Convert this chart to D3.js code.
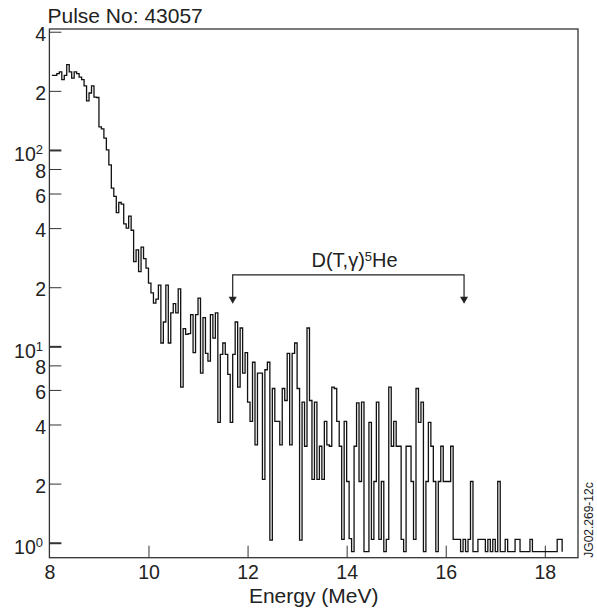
<!DOCTYPE html>
<meta charset="utf-8">
<style>
body {
  margin: 0;
  background: #fff;
}
svg {
  font-family: "Liberation Sans", Arial, Helvetica, sans-serif;
}
</style>
<svg width="597" height="609"></svg>
<script src="https://cdn.jsdelivr.net/npm/d3@7/dist/d3.min.js"></script>
<script>

// gamma spectrum, pulse 43057 : counts per energy bin
var binStart = 8.05;
var binWidth = 0.05;

var counts8to9 = [240, 240, 245, 250, 228, 240, 272, 250, 232, 250, 245, 235, 228, 212,
  178, 195, 212, 186, 185, 131, 128, 115, 100, 84];
var counts9to10 = [64, 58, 48, 54, 53, 42, 40, 46, 39, 27, 31, 24, 32, 28, 25, 21, 18.7,
  16.6, 17.4, 20.5];
var counts10to12 = [10.4, 13.3, 20.5, 10.4, 14.8, 16.5, 14.8, 19.6, 6.2, 12.3, 11.5, 11.6,
  14.5, 9.3, 14.5, 17.6, 7.3, 14, 9.2, 8.4, 14.5, 11, 14.8, 4.1, 9.1, 10.4, 9.1, 7.2, 4.1,
  9.1, 13.3, 6.2];
var counts12to14 = [12.4, 7.3, 9.3, 5.2, 4.15, 8.3, 3.15, 7.3, 7.3, 2.1, 7.6, 8.3, 1.03,
  6.1, 4.15, 4.15, 3.15, 6.1, 5.3, 9.2, 3.15, 9.2, 10.4, 6.1, 1.03, 5.2, 3.1, 12.4, 5.3,
  2.1, 5.2, 2.1, 3.1, 2.1, 4.15, 3.15, 3.1, 6.2, 6.1, 4.15];
var counts14to16 = [3.1, 1.04, 4.15, 2.05, 1.05, 0, 3.1, 5.15, 2.05, 5.2, 0, 0, 4.1, 1.04,
  2.05, 5.2, 1.04, 2.05, 0, 1.04, 6.2, 3.1, 4.15, 3.1, 3.1, 1.04, 0, 3.1, 3.1, 2.05, 1.04,
  6.1, 4.1, 5.2, 0, 2.05, 4.1, 3.1, 2.05, 0, 2.05, 3.1, 2.05, 2.05, 2.05, 3.1, 1.04];
var countsTail = [1.04, 1.04, 0, 1.04, 0, 1.04, 2.05, 0, 0, 1.04, 1.04, 1.04, 0, 1.04, 0,
  1.04, 0, 2.05, 0, 0, 1.04, 0, 0, 0, 1.04, 1.04, 0, 0, 0, 0, 1.04, 0, 0, 0, 0, 0, 0, 0, 0,
  0, 0, 1.04, 1.04];

var counts = [].concat(counts8to9, counts9to10, counts10to12, counts12to14, counts14to16, countsTail);

// empty bins are drawn just under the 10^0 line
var zeroLevel = 0.9;

var xTicks = [8, 10, 12, 14, 16, 18];
var yTicks = [1, 2, 4, 6, 8, 10, 20, 40, 60, 80, 100, 200, 400];
var yMajor = [1, 10, 100];

// D(T,gamma)5He window
var windowE = [11.7, 16.37];
var windowLevels = [16.5, 23.1, 25.5]; // arrow tips, bracket, label

var svg = d3.select("svg");

var x = d3.scaleLinear().domain([8, 18.67]).range([49.4, 578]);
var y = d3.scaleLog().domain([0.839, 413]).range([557.7, 29]);

// axes, ticks pointing inwards
var xAxis = d3.axisBottom(x)
  .tickValues(xTicks)
  .tickSize(-12)
  .tickPadding(7)
  .tickFormat(d3.format("d"));

var gx = svg.append("g")
  .attr("transform", "translate(0," + y.range()[0] + ")")
  .call(xAxis);

var yAxis = d3.axisLeft(y)
  .tickValues(yTicks)
  .tickSize(-12)
  .tickPadding(3.4)
  .tickFormat(function(d) {
    if (yMajor.indexOf(d) >= 0) return "10";
    return String(d / Math.pow(10, Math.floor(Math.log10(d) + 1e-9)));
  });

var gy = svg.append("g")
  .attr("transform", "translate(" + x.range()[0] + ",0)")
  .call(yAxis);

[gx, gy].forEach(function(g) {
  g.select(".domain").remove();
  g.selectAll("text")
    .attr("fill", "#222")
    .style("font-size", "19.5px")
    .style("font-family", "'Liberation Sans', Arial, sans-serif");
  g.selectAll("line").attr("stroke", "#333");
});

gx.selectAll(".tick text").attr("dy", "0.71em");
gx.selectAll(".tick").filter(function(d) { return d == 8; }).select("line").remove();

gy.selectAll(".tick line")
  .attr("stroke-width", function(d) { return yMajor.indexOf(d) >= 0 ? 2 : 1; });

gy.selectAll(".tick text").attr("dy", "0.44em");

gy.selectAll(".tick")
  .filter(function(d) { return yMajor.indexOf(d) >= 0; })
  .select("text")
  .attr("x", -6.4)
  .attr("dy", "0.55em")
  .append("tspan")
  .attr("dy", -7)
  .style("font-size", "13px")
  .text(function(d) { return Math.round(Math.log10(d)); });

// frame
svg.append("rect")
  .attr("x", x.range()[0])
  .attr("y", y.range()[1])
  .attr("width", x.range()[1] - x.range()[0])
  .attr("height", y.range()[0] - y.range()[1])
  .attr("fill", "none")
  .attr("stroke", "#333")
  .attr("stroke-width", 1.3);

// histogram as a stepped line
var points = counts.map(function(c, i) {
  return [binStart + i * binWidth, c > 0 ? c : zeroLevel];
});
var binEnd = binStart + counts.length * binWidth;
points.push([binEnd, counts[counts.length - 1] || zeroLevel]);
points.push([binEnd, zeroLevel]);

var line = d3.line()
  .x(function(d) { return x(d[0]); })
  .y(function(d) { return y(d[1]); })
  .curve(d3.curveStepAfter);

svg.append("path")
  .datum(points)
  .attr("d", line)
  .attr("fill", "none")
  .attr("stroke", "#111")
  .attr("stroke-width", 1.3)
  .attr("stroke-linejoin", "miter");

// bracket with arrows
var tipY = y(windowLevels[0]), barY = y(windowLevels[1]);
var ax0 = x(windowE[0]), ax1 = x(windowE[1]);

svg.append("path")
  .attr("d", "M" + ax0 + "," + (tipY - 6) + "V" + barY + "H" + ax1 + "V" + (tipY - 6))
  .attr("fill", "none")
  .attr("stroke", "#222")
  .attr("stroke-width", 1.2);

svg.selectAll(".arrow")
  .data(windowE)
  .enter().append("path")
  .attr("class", "arrow")
  .attr("d", function(d) {
    var tx = x(d);
    return "M" + (tx - 4) + "," + (tipY - 7) + "L" + (tx + 4) + "," + (tipY - 7) + "L" + tx + "," + tipY + "Z";
  })
  .attr("fill", "#222");

var label = svg.append("text")
  .attr("x", x(14.16))
  .attr("y", y(windowLevels[2]))
  .attr("text-anchor", "middle")
  .attr("fill", "#222")
  .style("font-size", "20px");
label.append("tspan").text("D(T,\u03b3)");
label.append("tspan").attr("dy", -6).style("font-size", "13px").text("5");
label.append("tspan").attr("dy", 6).text("He");

// titles
svg.append("text")
  .attr("x", 47.5)
  .attr("y", 23.3)
  .attr("fill", "#222")
  .style("font-size", "21px")
  .text("Pulse No: 43057");

svg.append("text")
  .attr("x", (x.range()[0] + x.range()[1]) / 2)
  .attr("y", 603.3)
  .attr("text-anchor", "middle")
  .attr("fill", "#222")
  .style("font-size", "21px")
  .text("Energy (MeV)");

svg.append("text")
  .attr("transform", "translate(592.5," + y.range()[0] + ") rotate(-90)")
  .attr("fill", "#222")
  .style("font-size", "12px")
  .text("JG02.269-12c");

</script>
